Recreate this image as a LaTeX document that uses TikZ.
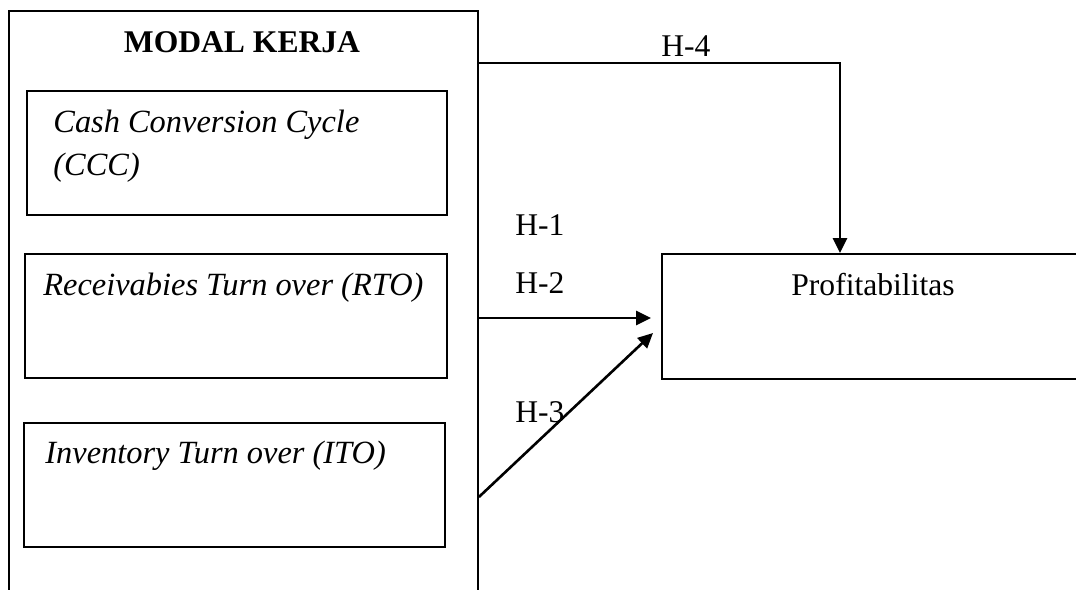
\documentclass[tikz,border=0pt]{standalone}
\usepackage{fontspec}
\setmainfont{Liberation Serif}
\usetikzlibrary{arrows.meta}

\begin{document}
\begin{tikzpicture}[x=0.5pt,y=-0.5pt,
	box/.style={draw, line width=0.9pt, rectangle, inner sep=0pt},
	arr/.style={-{Triangle[length=7.5pt,width=7pt]}, line width=1.3pt},
	lbl/.style={inner sep=0pt, font=\fontsize{15.8}{21.5}\selectfont},
	itlbl/.style={inner sep=0pt, anchor=base west, font=\fontsize{16.2}{21.5}\selectfont\itshape}]
	\useasboundingbox (0,0) rectangle (1076,589);
	\clip (0,0) rectangle (1076,589);
	\node[box, minimum width=234.5pt, minimum height=304pt] (modal) at (243.5,315) {};
	\node[box, minimum width=210pt, minimum height=62pt] (ccc) at (237,153) {};
	\node[box, minimum width=211pt, minimum height=62pt] (rto) at (236,316) {};
	\node[box, minimum width=210.5pt, minimum height=62pt] (ito) at (234.5,485) {};
	\node[box, minimum width=210pt, minimum height=62.5pt] (profit) at (872,316.5) {};
	\node[lbl, anchor=base] (title) at (242,52) {\bfseries MODAL KERJA};
	\node[itlbl] (cccA) at (53,132) {Cash Conversion Cycle};
	\node[itlbl] (cccB) at (53,175) {(CCC)};
	\node[itlbl] (rtoT) at (43,295) {Receivabies Turn over (RTO)};
	\node[itlbl] (itoT) at (45,463) {Inventory Turn over (ITO)};
	\node[lbl, anchor=base] (profitT) at (873,295) {Profitabilitas};
	\node[lbl, anchor=base west] (h1) at (515,235) {H-1};
	\node[lbl, anchor=base west] (h2) at (515,293) {H-2};
	\node[lbl, anchor=base west] (h3) at (515,422) {H-3};
	\node[lbl, anchor=base west] (h4) at (661,56) {H-4};
	\coordinate (h4bend) at (840,63);
	\coordinate (h2from) at (0,318);
	\coordinate (h3from) at (0,497);
	\coordinate (h3to) at (653,333);
	\draw[arr] (modal.east |- h4bend) -- (h4bend) -- (h4bend |- profit.north);
	\draw[arr, shorten >=5pt] (modal.east |- h2from) -- (profit.west |- h2from);
	\draw[arr] (modal.east |- h3from) -- (h3to);
\end{tikzpicture}
\end{document}
